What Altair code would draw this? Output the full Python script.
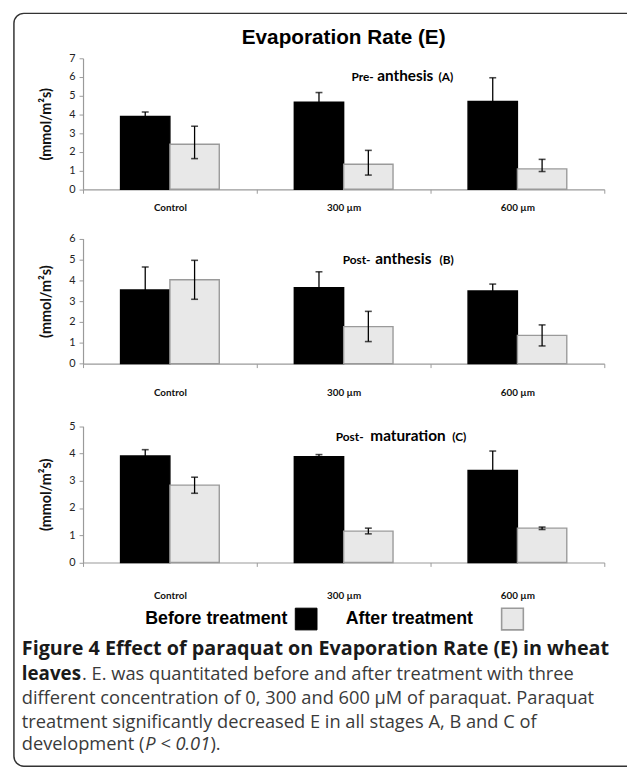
import altair as alt
import pandas as pd

categories = ["Control", "300 µm", "600 µm"]
treatments = ["Before treatment", "After treatment"]

# Panel A: Pre- anthesis
a_before = [3.89, 4.66, 4.69]
a_before_hi = [4.13, 5.17, 5.96]
a_before_lo = [3.65, 4.15, 3.42]
a_after = [2.41, 1.34, 1.09]
a_after_hi = [3.37, 2.08, 1.60]
a_after_lo = [1.64, 0.76, 0.95]

# Panel B: Post- anthesis
b_before = [3.54, 3.65, 3.49]
b_before_hi = [4.64, 4.41, 3.82]
b_before_lo = [2.44, 2.89, 3.16]
b_after = [4.03, 1.78, 1.36]
b_after_hi = [4.96, 2.51, 1.86]
b_after_lo = [3.09, 1.06, 0.85]

# Panel C: Post- maturation
c_before = [3.91, 3.88, 3.38]
c_before_hi = [4.14, 3.96, 4.09]
c_before_lo = [3.68, 3.80, 2.67]
c_after = [2.84, 1.15, 1.26]
c_after_hi = [3.13, 1.26, 1.30]
c_after_lo = [2.54, 1.05, 1.21]

y_max = {"A": 7, "B": 6, "C": 5}

# layout (page coords minus 8px margin, x minus left padding)
PAD_L = 76
W = 551
H = 765
OX = 8 + PAD_L
OY = 8


def px(x):
    return x - OX


def py(y):
    return y - OY


def frame(before, bhi, blo, after, ahi, alo):
    rows = []
    for i, c in enumerate(categories):
        rows.append({"cat": c, "treat": treatments[0], "value": before[i], "hi": bhi[i], "lo": blo[i]})
        rows.append({"cat": c, "treat": treatments[1], "value": after[i], "hi": ahi[i], "lo": alo[i]})
    return pd.DataFrame(rows)


def panel(df, ymax, zero_y, top_y, label_pad):
    x_scale = alt.Scale(domain=categories, range=[0, 528], paddingInner=0, paddingOuter=0)
    xo_scale = alt.Scale(domain=treatments, paddingInner=0, paddingOuter=0.76)
    y_scale = alt.Scale(domain=[0, ymax], range=[zero_y, top_y], nice=False, zero=True)
    x_axis = alt.Axis(
        title=None, orient="bottom", offset=zero_y - H, tickBand="extent", labelAngle=0,
        domainColor="#9a9a9a", tickColor="#9a9a9a", tickSize=4, domainWidth=1.2,
        labelFont="Lato", labelFontWeight="bold", labelFontSize=10, labelColor="#111",
        labelPadding=label_pad, grid=False,
    )
    y_axis = alt.Axis(
        title="(mmol/m²s)", orient="left", values=list(range(ymax + 1)), grid=False,
        domainColor="#9a9a9a", tickColor="#9a9a9a", tickSize=4, domainWidth=1.2,
        labelFont="Lato", labelFontSize=11, labelColor="#222", labelPadding=4,
        titleFont="Lato", titleFontWeight="bold", titleFontSize=14.5, titleColor="#111",
        titlePadding=16,
    )
    x = alt.X("cat:N", scale=x_scale, axis=x_axis, sort=categories)
    xo = alt.XOffset("treat:N", scale=xo_scale, sort=treatments)
    base = alt.Chart(df)
    bars = base.mark_bar(strokeWidth=1.4).encode(
        x=x, xOffset=xo,
        y=alt.Y("value:Q", scale=y_scale, axis=y_axis),
        fill=alt.Fill("treat:N", scale=alt.Scale(domain=treatments, range=["#000000", "#e8e8e8"]), legend=None),
        stroke=alt.Stroke("treat:N", scale=alt.Scale(domain=treatments, range=["#000000", "#9a9a9a"]), legend=None),
    )
    rules = base.mark_rule(color="#000", strokeWidth=1.3).encode(
        x=x, xOffset=xo, y=alt.Y("lo:Q", scale=y_scale, axis=y_axis), y2="hi:Q"
    )
    cap_hi = base.mark_tick(color="#000", size=7, thickness=1.6).encode(
        x=x, xOffset=xo, y=alt.Y("hi:Q", scale=y_scale, axis=y_axis)
    )
    cap_lo = base.mark_tick(color="#000", size=7, thickness=1.6).encode(
        x=x, xOffset=xo, y=alt.Y("lo:Q", scale=y_scale, axis=y_axis)
    )
    return alt.layer(bars, rules, cap_hi, cap_lo)


def txt(s, x, y, size, weight="normal", font="Lato", color="#000", align="left",
        baseline="alphabetic", style="normal"):
    return alt.Chart(pd.DataFrame({"t": [s]})).mark_text(
        align=align, baseline=baseline, font=font, fontSize=size, fontWeight=weight,
        fontStyle=style, color=color,
    ).encode(x=alt.value(x), y=alt.value(y), text="t:N")


def box(x1, x2, y1, y2, fill, stroke, sw=1.0, radius=0, fill_opacity=1.0):
    return alt.Chart(pd.DataFrame({"a": [0]})).mark_rect(
        fill=fill, stroke=stroke, strokeWidth=sw, cornerRadius=radius, fillOpacity=fill_opacity,
    ).encode(x=alt.value(x1), x2=alt.value(x2), y=alt.value(y1), y2=alt.value(y2))


pA = panel(frame(a_before, a_before_hi, a_before_lo, a_after, a_after_hi, a_after_lo),
           y_max["A"], py(186.7), py(54.0), 9)
pB = panel(frame(b_before, b_before_hi, b_before_lo, b_after, b_after_hi, b_after_lo),
           y_max["B"], py(363.3), py(236.7), 20)
pC = panel(frame(c_before, c_before_hi, c_before_lo, c_after, c_after_hi, c_after_lo),
           y_max["C"], py(564.7), py(426.7), 24)

border = box(px(14), px(700), py(8.5), py(771), "#ffffff", "#333333", 1.5, 10, 0.0)
title = txt("Evaporation Rate (E)", px(348), py(33.5), 21, "bold", "Liberation Sans", "#000",
            "center", "middle")

SM = 12
BG = 15.5
ann = [
    txt("Pre-", px(356), py(76.7), SM, "bold"),
    txt("anthesis", px(382), py(76.7), BG, "bold"),
    txt("(A)", px(444), py(76.7), SM, "bold"),
    txt("Post-", px(347), py(262.3), SM, "bold"),
    txt("anthesis", px(380), py(262.3), BG, "bold"),
    txt("(B)", px(445), py(262.3), SM, "bold"),
    txt("Post-", px(340), py(441.7), SM, "bold"),
    txt("maturation", px(375), py(441.7), BG, "bold"),
    txt("(C)", px(458), py(441.7), SM, "bold"),
]

leg = [
    txt(treatments[0], px(291), py(622), 18, "bold", "Liberation Sans", "#000", "right", "middle"),
    box(px(299), px(321), py(611), py(633), "#000000", "#000000", 1.0),
    txt(treatments[1], px(350), py(622), 18, "bold", "Liberation Sans", "#000", "left", "middle"),
    box(px(508), px(530), py(611), py(633), "#e8e8e8", "#9a9a9a", 1.6),
]

CF = "Open Sans"
CS = 18.5
CB = 20
cap = [
    txt("Figure 4 Effect of paraquat on Evaporation Rate (E) in wheat", px(22), py(652), CB,
        "bold", CF, "#1a1a1a", "left", "middle"),
    txt("leaves", px(22), py(678), 19, "bold", CF, "#1a1a1a", "left", "middle"),
    txt(". E. was quantitated before and after treatment with three", px(83), py(678), CS,
        "normal", CF, "#3a3a3a", "left", "middle"),
    txt("different concentration of 0, 300 and 600 µM of paraquat. Paraquat", px(22), py(702),
        CS, "normal", CF, "#3a3a3a", "left", "middle"),
    txt("treatment significantly decreased E in all stages A, B and C of", px(22), py(726), CS,
        "normal", CF, "#3a3a3a", "left", "middle"),
    txt("development (", px(22), py(749), CS, "normal", CF, "#3a3a3a", "left", "middle"),
    txt("P < 0.01", px(147), py(749), CS, "normal", CF, "#3a3a3a", "left", "middle", "italic"),
    txt(").", px(213), py(749), CS, "normal", CF, "#3a3a3a", "left", "middle"),
]

chart = alt.layer(
    border, title, pA, pB, pC, *ann, *leg, *cap
).resolve_scale(
    x="independent", y="independent", xOffset="independent"
).properties(
    width=W, height=H,
    padding={"left": PAD_L, "top": 0, "right": 0, "bottom": 0},
    autosize=alt.AutoSizeParams(type="none"),
    background="#ffffff",
).configure_view(stroke=None)

chart.save("out.html", embed_options={"renderer": "svg", "actions": False})
